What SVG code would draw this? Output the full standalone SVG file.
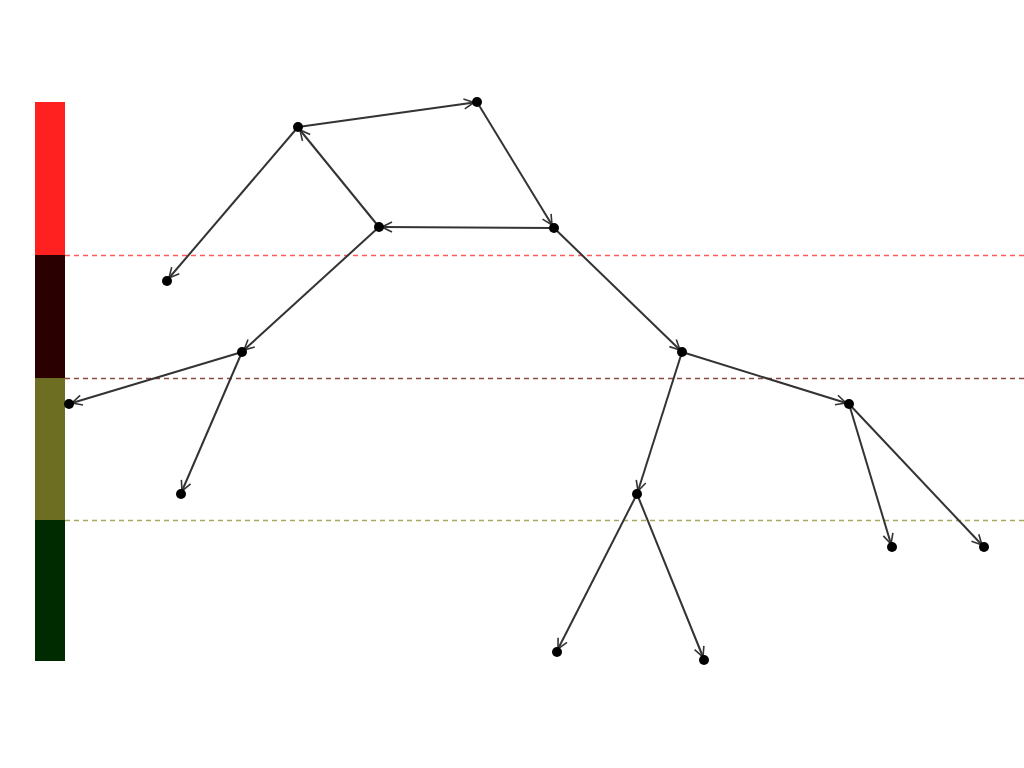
<svg xmlns="http://www.w3.org/2000/svg" width="1024" height="768" viewBox="0 0 1024 768">
<style>
.e{stroke:#333;stroke-width:2;fill:none;marker-end:url(#ah)}
.n{fill:#000}
.d{stroke-width:1.3;stroke-dasharray:5,4;fill:none}
</style>
<defs>
<marker id="ah" viewBox="0 0 12 12" refX="11" refY="6" markerWidth="12" markerHeight="12" markerUnits="userSpaceOnUse" orient="auto">
<path d="M1,1 L11,6 L1,11" fill="none" stroke="#333" stroke-width="1.6"/>
</marker>
</defs>
<rect width="1024" height="768" fill="#fff"/>
<g id="bands">
<rect x="35" y="102" width="30" height="153" fill="#ff2020"/>
<rect x="35" y="255" width="30" height="123" fill="#2a0000"/>
<rect x="35" y="378" width="30" height="142" fill="#6e6e22"/>
<rect x="35" y="520" width="30" height="141" fill="#002a00"/>
<line class="d" x1="65" y1="255.5" x2="1024" y2="255.5" stroke="#ff5a5a"/>
<line class="d" x1="65" y1="378.5" x2="1024" y2="378.5" stroke="#8a4a40"/>
<line class="d" x1="65" y1="520.5" x2="1024" y2="520.5" stroke="#a8a860"/>
</g>
<g id="connectors">
<line class="e" x1="298" y1="127" x2="474" y2="102.5"/>
<line class="e" x1="477" y1="102" x2="552" y2="225"/>
<line class="e" x1="554" y1="228" x2="382" y2="227"/>
<line class="e" x1="379" y1="227" x2="300" y2="130"/>
<line class="e" x1="298" y1="127" x2="169" y2="278"/>
<line class="e" x1="379" y1="227" x2="244" y2="350"/>
<line class="e" x1="242" y1="352" x2="72" y2="403"/>
<line class="e" x1="242" y1="352" x2="182" y2="491"/>
<line class="e" x1="554" y1="228" x2="680" y2="350"/>
<line class="e" x1="682" y1="352" x2="846" y2="403"/>
<line class="e" x1="682" y1="352" x2="638" y2="491"/>
<line class="e" x1="849" y1="404" x2="891" y2="544"/>
<line class="e" x1="849" y1="404" x2="982" y2="545"/>
<line class="e" x1="637" y1="494" x2="558" y2="649"/>
<line class="e" x1="637" y1="494" x2="703" y2="657"/>
</g>
<g id="nA"><circle class="n" cx="298" cy="127" r="5"/></g>
<g id="nB"><circle class="n" cx="477" cy="102" r="5"/></g>
<g id="nC"><circle class="n" cx="554" cy="228" r="5"/></g>
<g id="nD"><circle class="n" cx="379" cy="227" r="5"/></g>
<g id="nE"><circle class="n" cx="167" cy="281" r="5"/></g>
<g id="nF"><circle class="n" cx="242" cy="352" r="5"/></g>
<g id="nG"><circle class="n" cx="69" cy="404" r="5"/></g>
<g id="nH"><circle class="n" cx="181" cy="494" r="5"/></g>
<g id="nI"><circle class="n" cx="682" cy="352" r="5"/></g>
<g id="nJ"><circle class="n" cx="849" cy="404" r="5"/></g>
<g id="nK"><circle class="n" cx="637" cy="494" r="5"/></g>
<g id="nL"><circle class="n" cx="892" cy="547" r="5"/></g>
<g id="nM"><circle class="n" cx="984" cy="547" r="5"/></g>
<g id="nN"><circle class="n" cx="557" cy="652" r="5"/></g>
<g id="nO"><circle class="n" cx="704" cy="660" r="5"/></g>
</svg>
